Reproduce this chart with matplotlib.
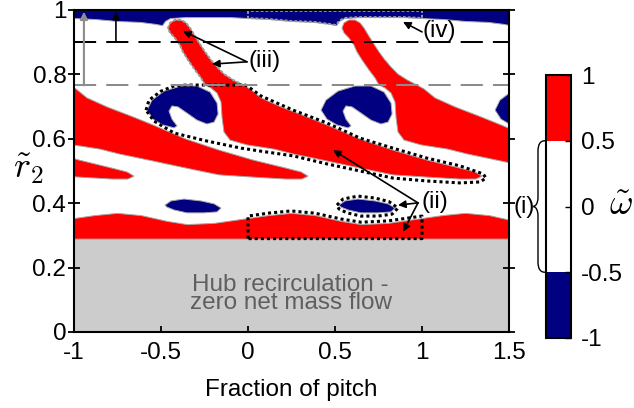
import numpy as np
import matplotlib as mpl
import matplotlib.pyplot as plt
import matplotlib.transforms as mtransforms
from matplotlib.colors import ListedColormap, BoundaryNorm
from matplotlib.path import Path
from matplotlib.patches import PathPatch

plt.rcParams['font.family'] = ['Liberation Sans', 'DejaVu Sans']
plt.rcParams['mathtext.fontset'] = 'cm'
plt.rcParams['axes.unicode_minus'] = False

RED = '#ff0000'
NAVY = '#000080'
EDGE = '#a8a8a8'
FS = 17.5

# the vorticity field repeats every blade pitch
shifts = [-2, -1, 0, 1, 2]
hub_r2 = 0.29

# lower edge of the negative layer at the casing, one pitch (x = -1..0)
casing_x = [-1.0, -0.879, -0.753, -0.621, -0.534, -0.494, -0.477, -0.448, -0.362, -0.103, 0.0]
casing_r2 = [0.975, 0.972, 0.966, 0.963, 0.957, 0.953, 0.966, 0.975, 0.978, 0.978, 0.975]

# upper edge of the positive layer on top of the hub recirculation, one pitch
hub_layer_x = [-1.0, -0.885, -0.753, -0.615, -0.466, -0.351, -0.195, -0.040, 0.0]
hub_layer_r2 = [0.354, 0.363, 0.370, 0.363, 0.345, 0.335, 0.339, 0.351, 0.354]

# positive finger (iii) rising towards the casing
finger_x = [-0.247, -0.270, -0.305, -0.345, -0.374, -0.391, -0.420, -0.448, -0.460, -0.448,
            -0.420, -0.385, -0.356, -0.333, -0.305, -0.276, -0.247, -0.213, -0.178, -0.138,
            -0.086, -0.029]
finger_r2 = [0.767, 0.789, 0.814, 0.845, 0.870, 0.891, 0.913, 0.929, 0.944, 0.960,
             0.969, 0.969, 0.960, 0.944, 0.919, 0.894, 0.870, 0.845, 0.823, 0.801,
             0.783, 0.767]

# positive streak (ii) trailing from the finger across the passage
streak_x = [0.011, 0.075, 0.190, 0.339, 0.454, 0.644, 0.833, 1.029, 1.218, 1.305, 1.345,
            1.310, 1.218, 1.029, 0.833, 0.644, 0.454, 0.259, 0.149, -0.006, -0.103,
            -0.138, -0.149, -0.155, -0.178, -0.213]
streak_r2 = [0.755, 0.727, 0.699, 0.668, 0.643, 0.599, 0.565, 0.534, 0.509, 0.497, 0.484,
             0.475, 0.475, 0.481, 0.488, 0.509, 0.531, 0.553, 0.568, 0.581, 0.596,
             0.621, 0.665, 0.714, 0.742, 0.758]

# negative hook beside the finger root
hook_x = [-0.580, -0.552, -0.483, -0.385, -0.293, -0.218, -0.178, -0.172, -0.195, -0.236,
          -0.293, -0.351, -0.402, -0.437, -0.454, -0.437, -0.408, -0.425, -0.489, -0.546]
hook_r2 = [0.689, 0.720, 0.748, 0.764, 0.764, 0.745, 0.711, 0.677, 0.652, 0.646,
           0.658, 0.680, 0.699, 0.702, 0.686, 0.661, 0.640, 0.634, 0.643, 0.661]

# small negative blob near the hub
blob_x = [-0.477, -0.443, -0.368, -0.270, -0.195, -0.155, -0.178, -0.253, -0.351, -0.425, -0.466]
blob_r2 = [0.394, 0.407, 0.413, 0.407, 0.398, 0.385, 0.373, 0.370, 0.370, 0.379, 0.388]

# highlighted regions
region_ii_x = [-0.586, -0.569, -0.500, -0.425, -0.351, -0.017, 0.011, 0.075, 0.259, 0.454,
               0.644, 0.833, 1.029, 1.218, 1.351, 1.368, 1.333, 1.218, 1.029, 0.833,
               0.644, 0.454, 0.259, 0.069, -0.040, -0.236, -0.425, -0.540]
region_ii_r2 = [0.689, 0.720, 0.748, 0.764, 0.767, 0.767, 0.758, 0.733, 0.689, 0.649,
                0.602, 0.571, 0.540, 0.516, 0.491, 0.478, 0.466, 0.463, 0.469, 0.478,
                0.500, 0.522, 0.547, 0.562, 0.571, 0.593, 0.618, 0.655]
blob_ring_x = [0.511, 0.546, 0.632, 0.730, 0.810, 0.862, 0.828, 0.747, 0.649, 0.569, 0.523]
blob_ring_r2 = [0.394, 0.413, 0.422, 0.416, 0.405, 0.385, 0.366, 0.360, 0.360, 0.370, 0.382]

r_lines = [0.9, 0.766]


def periodic(xs, ys, ks):
    px = np.concatenate([np.asarray(xs[:-1]) + k for k in ks] + [[xs[-1] + ks[-1]]])
    py = np.concatenate([np.asarray(ys[:-1]) for k in ks] + [[ys[-1]]])
    return px, py


fig = plt.figure(figsize=(6.34, 4.08), dpi=100)
ax = fig.add_axes([74 / 634, 76 / 408, 435 / 634, 322 / 408])
ax.set_xlim(-1, 1.5)
ax.set_ylim(0, 1)

# hub recirculation zone
ax.fill_between([-1, 1.5], 0, hub_r2, color='#cccccc', lw=0, zorder=1)

cx, cy = periodic(casing_x, casing_r2, [0, 1, 2])
ax.fill_between(cx, cy, 1.0, facecolor=NAVY, edgecolor=EDGE, lw=0.7, zorder=2)
hx, hy = periodic(hub_layer_x, hub_layer_r2, [0, 1, 2])
ax.fill_between(hx, hub_r2, hy, facecolor=RED, edgecolor=EDGE, lw=0.7, zorder=2)

red_x = np.array(finger_x + streak_x)
red_y = np.array(finger_r2 + streak_r2)
for k in shifts:
    ax.fill(red_x + k, red_y, facecolor=RED, edgecolor=EDGE, lw=0.7, zorder=2)
    ax.fill(np.array(hook_x) + k, hook_r2, facecolor=NAVY, edgecolor=EDGE, lw=0.7, zorder=2)
    ax.fill(np.array(blob_x) + k, blob_r2, facecolor=NAVY, edgecolor=EDGE, lw=0.7, zorder=2)

# outlines of the marked structures
dots = dict(color='k', lw=2.2, linestyle=(0, (1, 1)), zorder=4)
ax.plot(region_ii_x + region_ii_x[:1], region_ii_r2 + region_ii_r2[:1], **dots)
ax.plot(blob_ring_x + blob_ring_x[:1], blob_ring_r2 + blob_ring_r2[:1], **dots)
bx = np.array(hub_layer_x) + 1
by = np.array(hub_layer_r2) + 0.006
ax.plot(np.r_[0, bx, 1, 0], np.r_[hub_r2, by, hub_r2, hub_r2], **dots)

grey_dash = dict(color='#9a9a9a', lw=1.4, linestyle=(0, (1.5, 1)), zorder=4)
ax.plot(finger_x, finger_r2, **grey_dash)
tx = np.array(casing_x) + 1
ax.plot(np.r_[0, tx, 1, 0], np.r_[0.997, casing_r2, 0.997, 0.997], **grey_dash)

ax.axhline(r_lines[0], color='k', lw=1.45, linestyle=(0, (11, 5)), zorder=4)
ax.axhline(r_lines[1], color='#8c8c8c', lw=1.45, linestyle=(0, (11, 5)), zorder=4)

arrow = dict(arrowstyle='-|>', lw=1.2, mutation_scale=11, shrinkA=0, shrinkB=0)
ax.annotate('', xy=(-0.943, 0.995), xytext=(-0.943, r_lines[1]),
            arrowprops=dict(arrow, color='#8c8c8c', lw=1.5), zorder=5)
ax.annotate('', xy=(-0.759, 0.995), xytext=(-0.759, r_lines[0]),
            arrowprops=dict(arrow, color='k'), zorder=5)

for head in [(-0.374, 0.935), (-0.207, 0.832)]:
    ax.annotate('', xy=head, xytext=(-0.006, 0.839), arrowprops=dict(arrow, color='k'), zorder=5)
ax.text(0.095, 0.842, '(iii)', fontsize=FS, ha='center', va='center', zorder=5)

ax.annotate('', xy=(0.891, 0.963), xytext=(1.0, 0.932), arrowprops=dict(arrow, color='k'), zorder=5)
ax.text(1.10, 0.935, '(iv)', fontsize=FS, ha='center', va='center', zorder=5)

for head in [(0.489, 0.565), (0.862, 0.394), (0.891, 0.311)]:
    ax.annotate('', xy=head, xytext=(0.977, 0.401), arrowprops=dict(arrow, color='k'), zorder=5)
ax.text(1.075, 0.405, '(ii)', fontsize=FS, ha='center', va='center', zorder=5)

ax.text(0.245, 0.118, 'Hub recirculation -\nzero net mass flow', fontsize=FS,
        color='#5f5f5f', ha='center', va='center', linespacing=0.72, zorder=5)

ax.set_xticks([-1, -0.5, 0, 0.5, 1, 1.5])
ax.set_xticklabels(['-1', '-0.5', '0', '0.5', '1', '1.5'])
ax.set_yticks([0, 0.2, 0.4, 0.6, 0.8, 1])
ax.set_yticklabels(['0', '0.2', '0.4', '0.6', '0.8', '1'])
ax.tick_params(axis='x', direction='in', length=4, width=1.3, top=True, pad=7, labelsize=FS)
ax.tick_params(axis='y', direction='inout', length=9, width=1.3, right=True, pad=1, labelsize=FS)
for s in ax.spines.values():
    s.set_linewidth(1.5)
    s.set_zorder(6)
ax.set_xlabel('Fraction of pitch', fontsize=FS)
ax.xaxis.set_label_coords(0.5, -0.145)

fig.text(13 / 634, 1 - 178 / 408, r'$\tilde{r}_2$', fontsize=26, ha='left', va='baseline')

# colour bar with three bands
cax = fig.add_axes([546 / 634, 70 / 408, 25 / 634, 263 / 408])
cmap = ListedColormap([NAVY, 'white', RED])
norm = BoundaryNorm([-1, -0.5, 0.5, 1], 3)
cb = fig.colorbar(mpl.cm.ScalarMappable(norm=norm, cmap=cmap), cax=cax,
                  spacing='proportional', ticks=[-1, -0.5, 0, 0.5, 1])
cb.ax.set_yticklabels(['-1', '-0.5', '0', '0.5', '1'])
cb.outline.set_linewidth(1.5)
cb.ax.tick_params(direction='in', length=4, width=1, labelsize=FS, pad=7)
fig.text(609 / 634, 1 - 215 / 408, r'$\tilde{\omega}$', fontsize=26, ha='left', va='baseline')

# brace marking the white band (i)
bt = mtransforms.blended_transform_factory(cax.transAxes, cax.transData)
verts = [(-0.04, 0.5), (-0.24, 0.5), (-0.32, 0.47), (-0.32, 0.42),
         (-0.32, 0.07),
         (-0.32, 0.03), (-0.40, 0.0), (-0.52, 0.0),
         (-0.40, 0.0), (-0.32, -0.03), (-0.32, -0.07),
         (-0.32, -0.42),
         (-0.32, -0.47), (-0.24, -0.5), (-0.04, -0.5)]
codes = [Path.MOVETO, Path.CURVE4, Path.CURVE4, Path.CURVE4,
         Path.LINETO,
         Path.CURVE4, Path.CURVE4, Path.CURVE4,
         Path.CURVE4, Path.CURVE4, Path.CURVE4,
         Path.LINETO,
         Path.CURVE4, Path.CURVE4, Path.CURVE4]
fig.add_artist(PathPatch(Path(verts, codes), transform=bt, fill=False, lw=1.0, color='k'))
fig.text(-0.88, 0.0, '(i)', fontsize=FS, ha='center', va='center', transform=bt)

fig.savefig('out.png', dpi=100)
